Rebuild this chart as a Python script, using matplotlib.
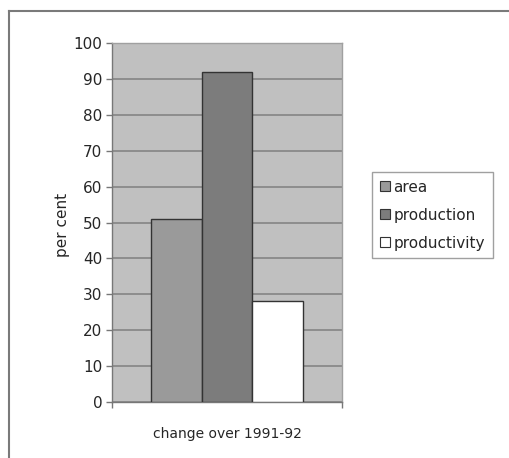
import matplotlib
matplotlib.use("Agg")
import matplotlib.pyplot as plt
from matplotlib.patches import Patch
from matplotlib.lines import Line2D

series = ["area", "production", "productivity"]
values = [51, 92, 28]
category = "change over 1991-92"
yticks = list(range(0, 101, 10))

FILLS = ["#9a9a9a", "#7c7c7c", "#ffffff"]
PLOT_BG = "#c0c0c0"
GRID = "#858585"
EDGE = "#333333"
TEXT = "#262626"

plt.rcParams["font.family"] = ["DejaVu Sans"]

fig = plt.figure(figsize=(5.09, 4.58), dpi=100)
W, H = 509, 458
ax = fig.add_axes([112 / W, 1 - 402 / H, 230 / W, 359 / H])
ax.set_facecolor(PLOT_BG)

width = 0.22
centers = [0.5 + (i - 1) * width for i in range(len(series))]
for c, v, fc in zip(centers, values, FILLS):
    ax.bar(c, v, width=width, color=fc, edgecolor=EDGE, linewidth=1.0, zorder=3)

ax.set_xlim(0, 1)
ax.set_ylim(0, 100)
ax.set_yticks(yticks)
ax.yaxis.grid(True, color=GRID, linewidth=1.2, zorder=1)
ax.set_axisbelow(True)
ax.tick_params(axis="y", direction="out", length=4, width=1, color="#777777",
               labelsize=11, pad=3, labelcolor=TEXT)
ax.set_xticks([0, 1])
ax.set_xticklabels(["", ""])
ax.tick_params(axis="x", direction="out", length=4, width=1, color="#777777")
ax.text(0.5, -0.088, category, transform=ax.transAxes, ha="center", va="center",
        fontsize=10, color=TEXT)

for side in ["left", "bottom"]:
    ax.spines[side].set_color("#777777")
    ax.spines[side].set_linewidth(1.0)
for side in ["top", "right"]:
    ax.spines[side].set_color("#a0a0a0")
    ax.spines[side].set_linewidth(1.0)

fig.text(62 / W, 1 - 225 / H, "per cent", rotation=90, ha="center", va="center",
         fontsize=11, color=TEXT)

handles = [Patch(facecolor=fc, edgecolor=EDGE, linewidth=0.8) for fc in FILLS]
leg = fig.legend(handles, series, loc="upper left",
                 bbox_to_anchor=(372 / W, 1 - 172 / H), fontsize=11,
                 frameon=True, fancybox=False, edgecolor="#888888",
                 handlelength=0.65, handleheight=0.65, handletextpad=0.25,
                 borderpad=0.5, labelspacing=0.85, borderaxespad=0)
leg.get_frame().set_linewidth(1.0)
for t in leg.get_texts():
    t.set_color(TEXT)

# outer frame, top and left edges only
fig.add_artist(Line2D([9 / W, 1], [1 - 11 / H, 1 - 11 / H], color="#7a7a7a",
                      linewidth=1.5, transform=fig.transFigure))
fig.add_artist(Line2D([9 / W, 9 / W], [0, 1 - 11 / H], color="#7a7a7a",
                      linewidth=1.5, transform=fig.transFigure))

fig.savefig("out.png", dpi=100, facecolor="white")
